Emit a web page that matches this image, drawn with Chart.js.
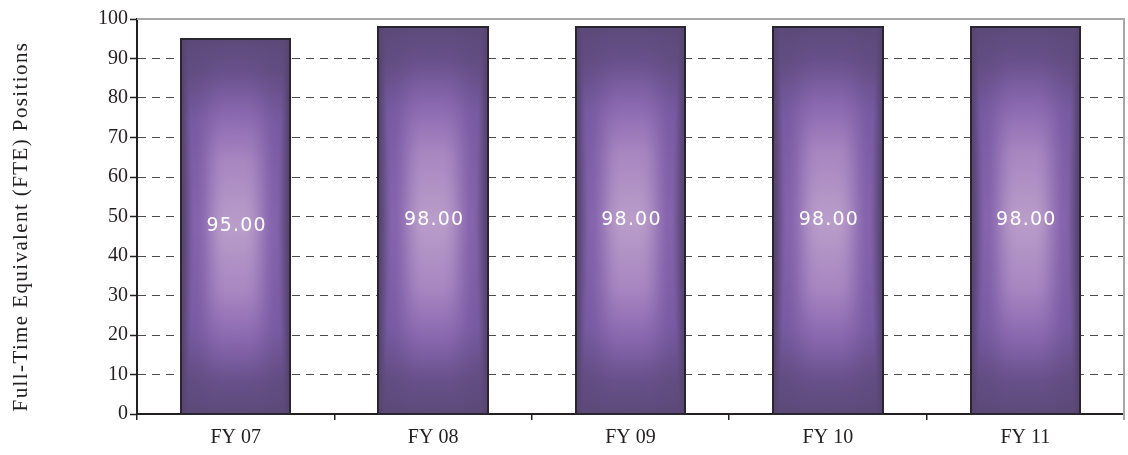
<!DOCTYPE html>
<html>
<head>
<meta charset="utf-8">
<script src="https://cdn.jsdelivr.net/npm/chart.js@4/dist/chart.umd.min.js"></script>
<style>
  html, body { margin: 0; padding: 0; background: #ffffff; }
  #wrap { width: 1128px; height: 455px; position: relative; }
</style>
</head>
<body>
<div id="wrap"><canvas id="c"></canvas></div>
<script>
// Staffing levels by fiscal year
const fiscalYears = ['FY 07', 'FY 08', 'FY 09', 'FY 10', 'FY 11'];
const ftePositions = [95, 98, 98, 98, 98];
const yAxisTitle = 'Full-Time Equivalent (FTE) Positions';
const yMin = 0, yMax = 100, yStep = 10;

// Colour stops for the glassy purple bar shading (t: 0 = bar middle, 1 = bar ends)
const centerStops = [[0, [185,157,201]], [0.35, [168,134,193]], [0.6, [138,104,176]], [0.82, [104,81,140]], [1, [93,74,121]]];
const bandStops   = [[0, [134,100,174]], [0.55, [120,90,162]], [0.82, [98,77,130]], [1, [92,73,120]]];
const edgeColor = [86,68,113];

function mix(a, b, t) { return [a[0]+(b[0]-a[0])*t, a[1]+(b[1]-a[1])*t, a[2]+(b[2]-a[2])*t]; }
function atStops(stops, t) {
  for (let i = 1; i < stops.length; i++) {
    if (t <= stops[i][0]) {
      const [t0, c0] = stops[i-1], [t1, c1] = stops[i];
      return mix(c0, c1, (t - t0) / (t1 - t0));
    }
  }
  return stops[stops.length-1][1];
}
function smooth(e0, e1, x) {
  const t = Math.min(1, Math.max(0, (x - e0) / (e1 - e0)));
  return t * t * (3 - 2 * t);
}

function shadedBar(w, h) {
  const cv = document.createElement('canvas');
  cv.width = w; cv.height = h;
  const g = cv.getContext('2d');
  const img = g.createImageData(w, h);
  for (let j = 0; j < h; j++) {
    const t = Math.abs(2 * (j + 0.5) / h - 1);
    const C = atStops(centerStops, t);
    const B = atStops(bandStops, t);
    const k = 0.72 + 0.14 * t;
    for (let i = 0; i < w; i++) {
      const s = Math.abs(2 * (i + 0.5) / w - 1);
      let col = mix(C, B, Math.pow(smooth(0.12, k, s), 1.3));
      col = mix(col, edgeColor, smooth(k, 1.0, s));
      const p = (j * w + i) * 4;
      img.data[p] = col[0]; img.data[p+1] = col[1]; img.data[p+2] = col[2]; img.data[p+3] = 255;
    }
  }
  g.putImageData(img, 0, 0);
  return cv;
}

// Paints each bar with the shaded fill, outline and centred value label
const barShading = {
  id: 'barShading',
  afterDatasetsDraw(chart) {
    const ctx = chart.ctx;
    const meta = chart.getDatasetMeta(0);
    const values = chart.data.datasets[0].data;
    meta.data.forEach((bar, i) => {
      const p = bar.getProps(['x', 'y', 'base', 'width'], true);
      const left = Math.round(p.x - p.width / 2);
      const right = Math.round(p.x + p.width / 2);
      const top = Math.round(p.y);
      const bottom = Math.round(p.base);
      const w = right - left, h = bottom - top;
      if (w <= 0 || h <= 0) return;
      ctx.save();
      ctx.drawImage(shadedBar(w, h), left, top);
      ctx.lineWidth = 2;
      ctx.strokeStyle = '#2a2630';
      ctx.strokeRect(left, top, w, h);
      ctx.fillStyle = '#ffffff';
      ctx.font = '19px "DejaVu Sans"';
      if ('letterSpacing' in ctx) ctx.letterSpacing = '1.2px';
      ctx.textAlign = 'center';
      ctx.textBaseline = 'middle';
      ctx.fillText(Number(values[i]).toFixed(2), p.x + 1, (top + bottom) / 2);
      ctx.restore();
    });
  }
};

// Light grey frame along the top and right of the plot area
const plotFrame = {
  id: 'plotFrame',
  beforeDatasetsDraw(chart) {
    const {ctx, chartArea: a} = chart;
    ctx.save();
    ctx.strokeStyle = '#a7a7a9';
    ctx.lineWidth = 2;
    ctx.beginPath();
    ctx.moveTo(a.left, a.top);
    ctx.lineTo(a.right, a.top);
    ctx.lineTo(a.right, a.bottom + 6);
    ctx.stroke();
    ctx.restore();
  }
};

// Rotated, letter-spaced title for the value axis
const valueAxisTitle = {
  id: 'valueAxisTitle',
  afterDraw(chart) {
    const {ctx, chartArea: a} = chart;
    ctx.save();
    ctx.translate(27, (a.top + a.bottom) / 2 + 10);
    ctx.rotate(-Math.PI / 2);
    ctx.font = '21px "Liberation Serif"';
    if ('letterSpacing' in ctx) ctx.letterSpacing = '1.4px';
    ctx.fillStyle = '#231f20';
    ctx.textAlign = 'center';
    ctx.textBaseline = 'alphabetic';
    ctx.fillText(yAxisTitle, 0, 0);
    ctx.restore();
  }
};

new Chart(document.getElementById('c'), {
  type: 'bar',
  data: {
    labels: fiscalYears,
    datasets: [{
      data: ftePositions,
      backgroundColor: 'rgba(0,0,0,0)',
      borderWidth: 0,
      barPercentage: 0.555,
      categoryPercentage: 1.0
    }]
  },
  options: {
    responsive: true,
    maintainAspectRatio: false,
    animation: false,
    events: [],
    layout: { padding: { top: 19, right: 4, left: 0, bottom: 0 } },
    plugins: { legend: { display: false }, tooltip: { enabled: false } },
    scales: {
      x: {
        grid: { display: true, drawOnChartArea: false, drawTicks: true, tickLength: 6, color: '#231f20', lineWidth: 1.5 },
        border: { display: true, color: '#231f20', width: 2 },
        ticks: { color: '#231f20', padding: 6, font: { family: '"Liberation Serif", serif', size: 20 } },
        afterFit(scale) { scale.height = 41; }
      },
      y: {
        min: yMin,
        max: yMax,
        ticks: { stepSize: yStep, color: '#231f20', padding: 2, font: { family: '"Liberation Serif", serif', size: 20 } },
        grid: {
          display: true,
          drawOnChartArea: true,
          drawTicks: true,
          tickLength: 7,
          lineWidth: 1,
          color: (c) => (c.tick && (c.tick.value === yMax || c.tick.value === yMin)) ? 'rgba(0,0,0,0)' : '#4a4a4a',
          tickColor: '#231f20',
          tickWidth: 1.5
        },
        border: { display: true, color: '#231f20', width: 2, dash: [8, 6] },
        title: { display: false },
        afterFit(scale) { scale.width = 137; }
      }
    }
  },
  plugins: [plotFrame, barShading, valueAxisTitle]
});
</script>
</body>
</html>
